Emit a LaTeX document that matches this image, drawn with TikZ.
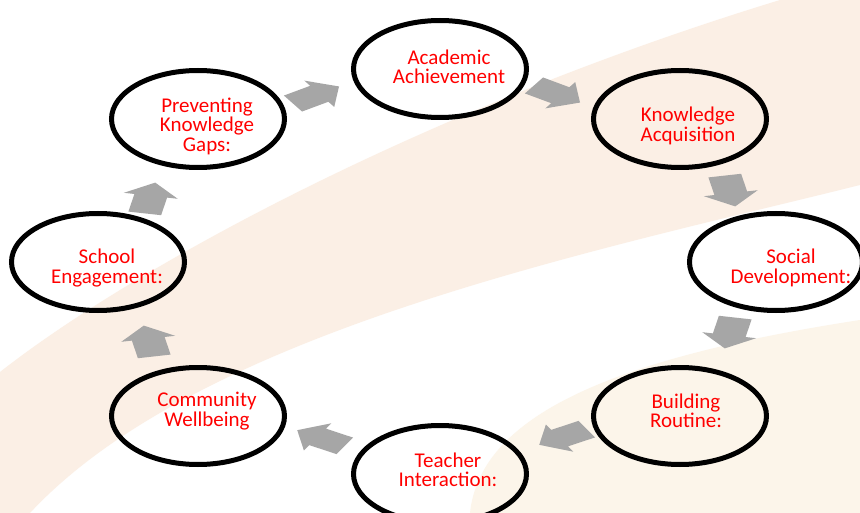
\documentclass[tikz,border=0pt]{standalone}
\usepackage{fontspec}
\setmainfont{Carlito}
\usetikzlibrary{shapes.geometric}
\definecolor{bandA}{RGB}{251,239,229}
\definecolor{bandB}{RGB}{252,245,234}
\definecolor{arrowgray}{RGB}{166,166,166}
\begin{document}
\begin{tikzpicture}[x=1pt,y=-1pt,
  ell/.style={draw=black, line width=5pt, ellipse, minimum width=173pt, minimum height=97pt, inner sep=0pt},
  lbl/.style={text=red, font=\fontsize{21}{19.5}\selectfont, align=center, inner sep=0pt},
  garrow/.style={fill=arrowgray, draw=none}]
\useasboundingbox (0,0) rectangle (860,513);
\fill[white] (0,0) rectangle (860,513);
\begin{scope}
\clip (0,0) rectangle (860,513);
\fill[bandA] (0,372) .. controls (130,270) and (420,110) .. (780,0) -- (880,-10) -- (880,180)
  -- (860,185) .. controls (600,250) and (200,330) .. (30,513) -- (-10,523) -- cycle;
\fill[bandB] (470,513) .. controls (480,420) and (600,360) .. (860,320) -- (880,530) -- cycle;
\end{scope}
% ellipses
\node[ell] (acad)  at (440,69)  {};
\node[ell] (know)  at (680,119) {};
\node[ell] (soc)   at (776,262) {};
\node[ell] (build) at (680,416) {};
\node[ell] (teach) at (440,474) {};
\node[ell] (comm)  at (198,416) {};
\node[ell] (school) at (98,262) {};
\node[ell] (prev)  at (198,119) {};
% labels
\node[lbl] (tacad)  at (449,67)  {Academic\\Achievement};
\node[lbl] (tknow)  at (688,126) {Knowledge\\Acquisition};
\node[lbl] (tsoc)   at (791,268) {Social\\Development:};
\node[lbl] (tbuild) at (686,411) {Building\\Routine:};
\node[lbl] (tteach) at (448,470) {Teacher\\Interaction:};
\node[lbl] (tcomm)  at (207,411) {Community\\Wellbeing};
\node[lbl] (tschool) at (107,268) {School\\Engagement:};
\node[lbl] (tprev)  at (207,126) {Preventing\\Knowledge\\Gaps:};
% block arrows
\foreach \cx/\cy/\ang in {316/95/33, 557/94/-33, 730/191/-79, 730/333/-101,
  563/437/-150, 321/438/150, 149/341/101, 150/198/79}{
  \begin{scope}[shift={(\cx,\cy)}, xscale=1.75, rotate=\ang, scale=1.12]
    \fill[garrow] (-14,-8.5) -- (2,-8.5) -- (2,-14) -- (14,0) -- (2,14) -- (2,8.5) -- (-14,8.5) -- cycle;
  \end{scope}
}
\end{tikzpicture}
\end{document}
